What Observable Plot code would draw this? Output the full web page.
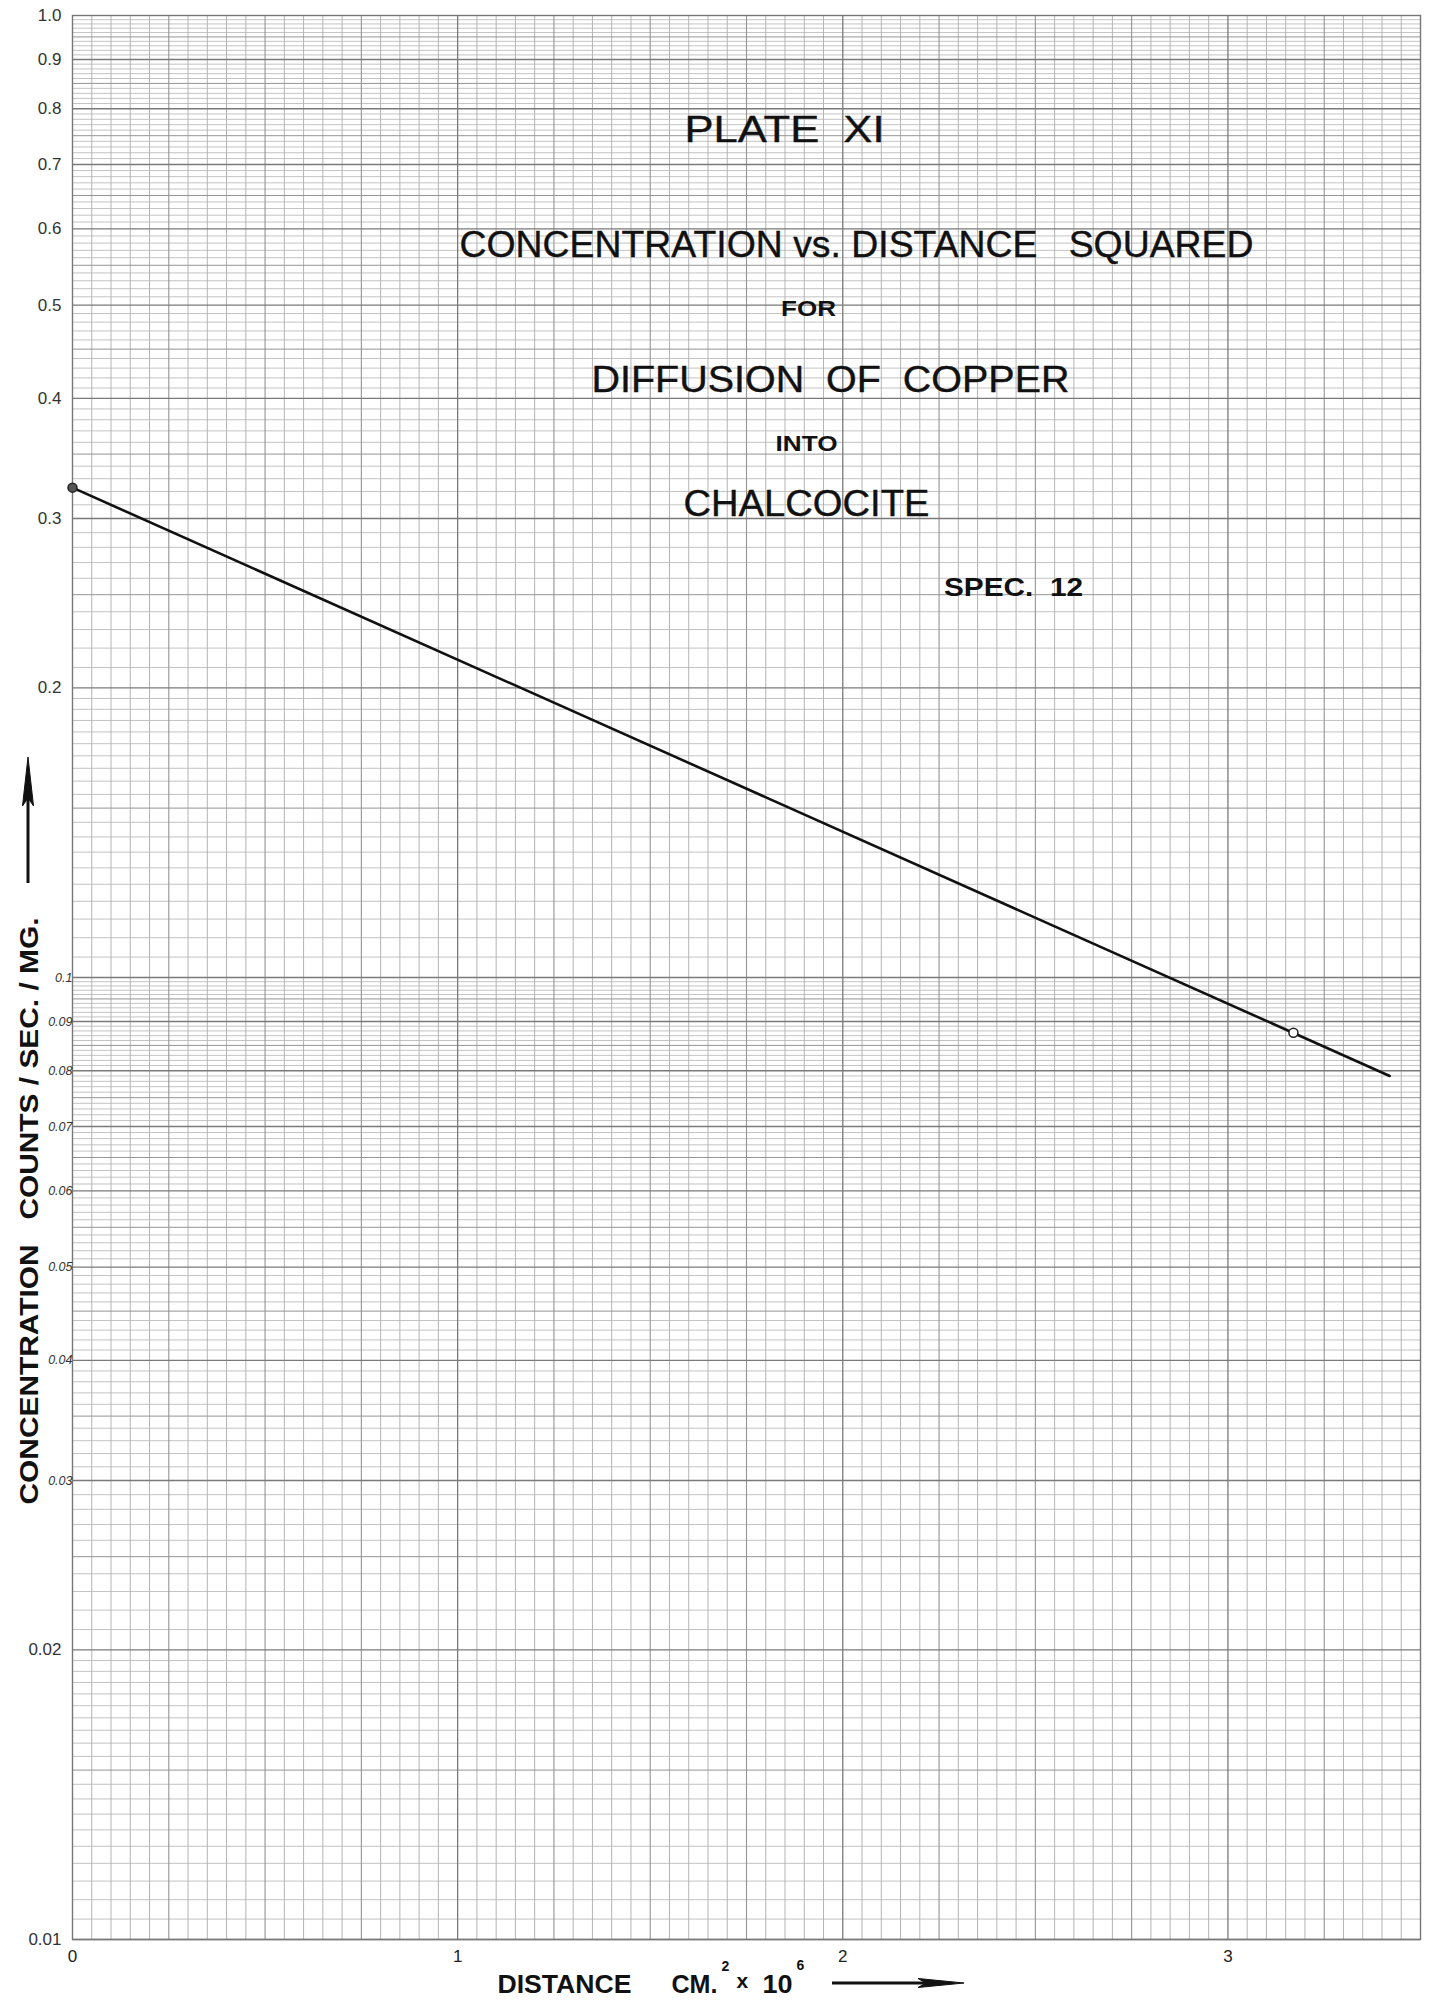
<!DOCTYPE html>
<html>
<head>
<meta charset="utf-8">
<script src="https://cdn.jsdelivr.net/npm/d3@7"></script>
<script src="https://cdn.jsdelivr.net/npm/@observablehq/plot@0.6"></script>
<style>
  html, body { margin: 0; padding: 0; background: #fff; }
  #chart svg { display: block; }
  #chart svg text { white-space: pre; }
</style>
</head>
<body>
<div id="chart"></div>
<script>
// ---- data read from the plate ----
const lineX = [0, 3.42];
const lineY = [0.323, 0.079];
const pointX = [0, 3.17];
const pointY = [0.323, 0.0876];

const xTicks = [0, 1, 2, 3];
const xTickLabels = ["0", "1", "2", "3"];

const yTicksLarge = [1, 0.9, 0.8, 0.7, 0.6, 0.5, 0.4, 0.3, 0.2, 0.02, 0.01];
const yLabelsLarge = ["1.0", "0.9", "0.8", "0.7", "0.6", "0.5", "0.4", "0.3", "0.2", "0.02", "0.01"];
const yTicksSmall = [0.1, 0.09, 0.08, 0.07, 0.06, 0.05, 0.04, 0.03];
const yLabelsSmall = ["0.1", "0.09", "0.08", "0.07", "0.06", "0.05", "0.04", "0.03"];

const titleLines = ["PLATE  XI", "CONCENTRATION vs. DISTANCE   SQUARED", "FOR", "DIFFUSION  OF  COPPER", "INTO", "CHALCOCITE", "SPEC.  12"];
const yTitle = "CONCENTRATION   COUNTS / SEC. / MG.";
const xTitleParts = ["DISTANCE", "CM.", "2", "x", "10", "6"];

// ---- graph-paper rulings (generated like tick marks) ----
const xMinor = [], xMid = [], xMajor = [];
for (let i = 1; i < 70; i++) {
  const v = i / 20;
  if (i % 20 === 0) xMajor.push(v);
  else if (i % 5 === 0) xMid.push(v);
  else xMinor.push(v);
}
const yMinor = [], yMid = [], yMajor = [];
for (const dec of [0.01, 0.1]) {
  for (let i = 20; i < 40; i++) {          // mantissa 1.00 .. 1.95 step 0.05
    const v = (i / 20) * dec;
    if (i % 20 === 0) yMajor.push(v);
    else if (i % 10 === 0) yMid.push(v);
    else yMinor.push(v);
  }
  for (let i = 20; i < 100; i++) {         // mantissa 2.0 .. 9.9 step 0.1
    const v = (i / 10) * dec;
    if (i % 10 === 0) yMajor.push(v);
    else if (i % 5 === 0) yMid.push(v);
    else yMinor.push(v);
  }
}

const lineData = lineX.map((x, i) => ({x, y: lineY[i]}));
const pointData = pointX.map((x, i) => ({x, y: pointY[i]}));
const largeMap = new Map(yTicksLarge.map((v, i) => [v, yLabelsLarge[i]]));
const smallMap = new Map(yTicksSmall.map((v, i) => [v, yLabelsSmall[i]]));
const xMap = new Map(xTicks.map((v, i) => [v, xTickLabels[i]]));

const ML = 72, MT = 15, MR = 9, MB = 68;
const W = 1429, H = 2007;
const FONT = "'Liberation Sans', Arial, Helvetica, sans-serif";
const ink = "#111";

function titleText(str, cx, cy, size, weight, strokeW) {
  return Plot.text([str], {
    text: d => d,
    frameAnchor: "top-left",
    dx: cx - ML, dy: cy - MT,
    textAnchor: "middle", lineAnchor: "middle",
    fontSize: size, fontWeight: weight,
    fill: ink, stroke: strokeW ? ink : undefined, strokeWidth: strokeW || undefined
  });
}
function bottomText(str, x, cy, size, weight, anchor = "start") {
  return Plot.text([str], {
    text: d => d,
    frameAnchor: "bottom-left",
    dx: x - ML, dy: cy - (H - MB),
    textAnchor: anchor, lineAnchor: "middle",
    fontSize: size, fontWeight: weight, fill: ink
  });
}

const plot = Plot.plot({
  width: W, height: H,
  marginLeft: ML, marginRight: MR, marginTop: MT, marginBottom: MB,
  x: {domain: [0, 3.5], axis: null},
  y: {type: "log", domain: [0.01, 1], axis: null},
  style: {background: "#fff", fontFamily: FONT, color: ink},
  marks: [
    Plot.ruleX(xMinor, {stroke: "#ababab", strokeWidth: 0.9}),
    Plot.ruleY(yMinor, {stroke: "#b4b4b4", strokeWidth: 0.8}),
    Plot.ruleX(xMid, {stroke: "#949494", strokeWidth: 1.1}),
    Plot.ruleY(yMid, {stroke: "#949494", strokeWidth: 1.0}),
    Plot.ruleX(xMajor, {stroke: "#7a7a7a", strokeWidth: 1.3}),
    Plot.ruleY(yMajor, {stroke: "#7a7a7a", strokeWidth: 1.3}),
    Plot.frame({stroke: "#777", strokeWidth: 1.4}),

    Plot.axisY(yTicksLarge, {label: null, tickSize: 0, tickPadding: 11, fontSize: 17, fill: "#333", tickFormat: d => largeMap.get(d)}),
    Plot.axisY(yTicksSmall, {label: null, tickSize: 0, tickPadding: 0, fontSize: 12.5, fill: "#333", fontStyle: "italic", tickFormat: d => smallMap.get(d)}),
    Plot.axisX(xTicks, {label: null, tickSize: 0, tickPadding: 10, fontSize: 17, fill: "#222", tickFormat: d => xMap.get(d)}),

    Plot.line(lineData, {x: "x", y: "y", stroke: ink, strokeWidth: 2.6}),
    Plot.dot([pointData[0]], {x: "x", y: "y", r: 4.5, fill: "#555", stroke: "#222", strokeWidth: 1.5}),
    Plot.dot([pointData[1]], {x: "x", y: "y", r: 4.5, fill: "#fff", stroke: "#222", strokeWidth: 1.5}),

    titleText(titleLines[0], 784, 130, 37, "normal", 0.4),
    titleText(titleLines[1], 856, 245, 37, "normal", 0.4),
    titleText(titleLines[2], 808, 308, 22, "bold", 0),
    titleText(titleLines[3], 830, 380, 37, "normal", 0.4),
    titleText(titleLines[4], 806, 443, 22, "bold", 0),
    titleText(titleLines[5], 806, 504, 37, "normal", 0.4),
    titleText(titleLines[6], 1013, 587, 25, "bold", 0),

    Plot.text([yTitle], {
      text: d => d, frameAnchor: "bottom-left",
      dx: 29 - ML, dy: 1504 - (H - MB),
      rotate: -90, textAnchor: "start", lineAnchor: "middle",
      fontSize: 26, fontWeight: "bold", fill: ink
    }),

    bottomText(xTitleParts[0], 497, 1984, 26, "bold"),
    bottomText(xTitleParts[1], 671, 1984, 26, "bold"),
    bottomText(xTitleParts[2], 721, 1966, 14, "bold"),
    bottomText(xTitleParts[3], 736, 1981, 21, "bold"),
    bottomText(xTitleParts[4], 762, 1984, 26, "bold"),
    bottomText(xTitleParts[5], 796, 1965, 14, "bold")
  ]
});

// fit hand-lettered widths
const lengths = new Map([
  [titleLines[0], 200], [titleLines[1], 794], [titleLines[2], 55], [titleLines[3], 478],
  [titleLines[4], 62], [titleLines[5], 246], [titleLines[6], 139],
  [yTitle, 587], ["DISTANCE", 134], ["CM.", 46], ["10", 30]
]);
d3.select(plot).selectAll("text").each(function () {
  const t = this.textContent;
  if (lengths.has(t) && this.childNodes.length === 1) {
    d3.select(this).attr("textLength", lengths.get(t)).attr("lengthAdjust", "spacingAndGlyphs");
  }
});

// direction arrows beside axis titles
const svg = d3.select(plot);
const deco = svg.append("g").attr("fill", ink).attr("stroke", ink);
deco.append("line").attr("x1", 832).attr("y1", 1983).attr("x2", 935).attr("y2", 1983).attr("stroke-width", 3);
deco.append("path").attr("d", "M964,1983 L918,1978.5 L926,1983 L918,1987.5 Z").attr("stroke-width", 1);
deco.append("line").attr("x1", 28).attr("y1", 883).attr("x2", 28).attr("y2", 785).attr("stroke-width", 3);
deco.append("path").attr("d", "M28,757 L22.5,806 L28,798 L33.5,806 Z").attr("stroke-width", 1);

document.getElementById("chart").appendChild(plot);
</script>
</body>
</html>
